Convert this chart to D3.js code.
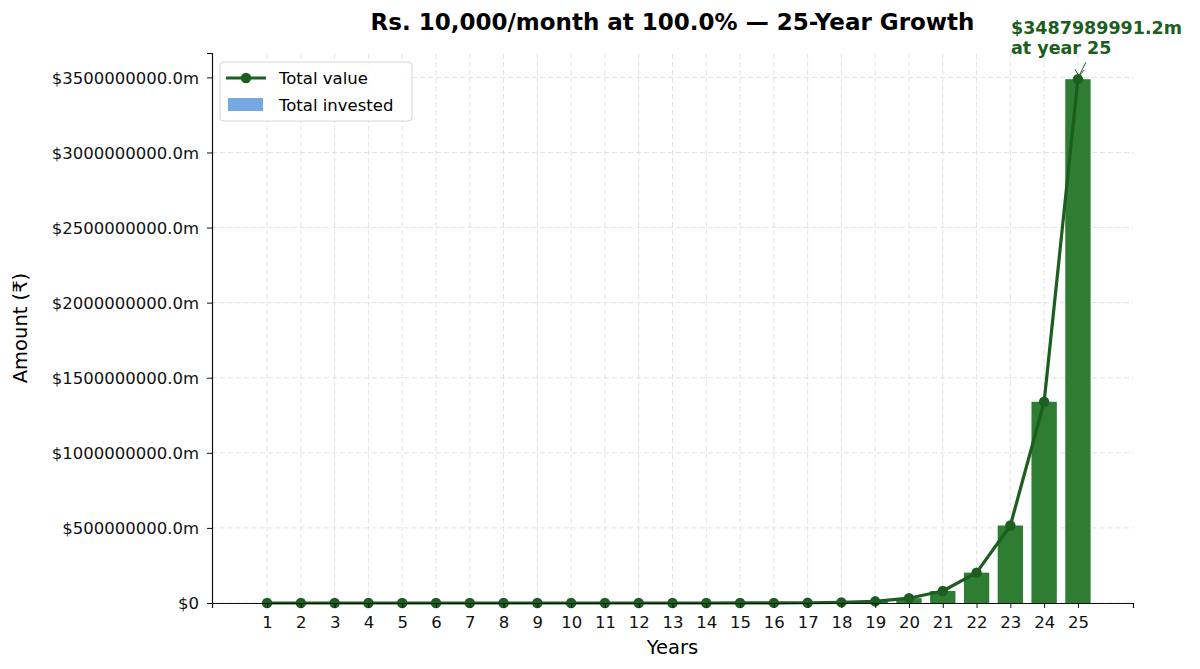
<!DOCTYPE html>
<html>
<head>
<meta charset="utf-8">
<script src="https://cdn.jsdelivr.net/npm/d3@7"></script>
<style>
  body { margin: 0; background: #fff; }
  svg { font-family: "DejaVu Sans", sans-serif; }
</style>
</head>
<body>
<svg width="1200" height="669"></svg>
<script>
// values in "m" units, as the chart labels them
const years = [1, 2, 3, 4, 5, 6, 7, 8, 9, 10, 11, 12, 13, 14, 15, 16, 17, 18, 19, 20, 21, 22, 23, 24, 25];
const totalValue = [0.2, 0.75, 2.2, 6, 16, 42, 110, 290, 760, 1990, 5200, 13600, 35500, 92800, 242500,
  633700, 1656000, 4327000, 11300000, 32000000, 80000000, 202000000, 516000000, 1340000000, 3487989991.2];
const totalInvested = [0.12, 0.24, 0.36, 0.48, 0.6, 0.72, 0.84, 0.96, 1.08, 1.2, 1.32, 1.44, 1.56, 1.68, 1.8,
  1.92, 2.04, 2.16, 2.28, 2.4, 2.52, 2.64, 2.76, 2.88, 3.0];
const yTicks = [0, 500000000, 1000000000, 1500000000, 2000000000, 2500000000, 3000000000, 3500000000];

const svg = d3.select("svg");
const margin = {left: 212, right: 67, top: 53, bottom: 66};
const width = +svg.attr("width");
const height = +svg.attr("height");

const green = "#1b5e20";
const barGreen = "#2e7d32";
const blue = "#74a9e2";

const x = d3.scaleLinear().domain([-0.63, 26.63]).range([margin.left, width - margin.right]);
const y = d3.scaleLinear().domain([0, d3.max(totalValue) * 1.05]).range([height - margin.bottom, margin.top]);
const barW = x(0.75) - x(0);

const fmt = v => v === 0 ? "$0" : "$" + v.toFixed(1) + "m";

// grid
const grid = svg.append("g");
grid.selectAll(".gx").data(years).enter().append("line")
  .attr("x1", d => x(d)).attr("x2", d => x(d))
  .attr("y1", y.range()[0]).attr("y2", y.range()[1])
  .attr("stroke", "#e2e2e2").attr("stroke-dasharray", "5,3").attr("stroke-width", 1);
grid.selectAll(".gy").data(yTicks).enter().append("line")
  .attr("x1", x.range()[0]).attr("x2", x.range()[1])
  .attr("y1", d => y(d)).attr("y2", d => y(d))
  .attr("stroke", "#e2e2e2").attr("stroke-dasharray", "5,3").attr("stroke-width", 1);

// bars: invested + gains stacked
svg.append("g").selectAll("rect").data(years).enter().append("rect")
  .attr("x", d => x(d) - barW / 2).attr("width", barW)
  .attr("y", (d, i) => y(totalInvested[i]))
  .attr("height", (d, i) => y(0) - y(totalInvested[i]))
  .attr("fill", blue);
svg.append("g").selectAll("rect").data(years).enter().append("rect")
  .attr("x", d => x(d) - barW / 2).attr("width", barW)
  .attr("y", (d, i) => y(totalValue[i]))
  .attr("height", (d, i) => y(totalInvested[i]) - y(totalValue[i]))
  .attr("fill", barGreen);

// line
const line = d3.line().x(d => x(d[0])).y(d => y(d[1]));
svg.append("path")
  .datum(years.map((d, i) => [d, totalValue[i]]))
  .attr("d", line).attr("fill", "none")
  .attr("stroke", green).attr("stroke-width", 3.2).attr("stroke-linejoin", "round");
svg.append("g").selectAll("circle").data(years).enter().append("circle")
  .attr("cx", d => x(d)).attr("cy", (d, i) => y(totalValue[i]))
  .attr("r", 5.2).attr("fill", green);

// axes
const xAxis = svg.append("g").attr("transform", `translate(0,${y(0)})`)
  .call(d3.axisBottom(x).tickValues(years).tickFormat(d3.format("d")).tickSize(5).tickPadding(8));
const yAxis = svg.append("g").attr("transform", `translate(${margin.left},0)`)
  .call(d3.axisLeft(y).tickValues(yTicks).tickFormat(fmt).tickSize(5).tickPadding(8));
[xAxis, yAxis].forEach(a => {
  a.selectAll("text").attr("font-size", 16.5).attr("fill", "#111").attr("font-family", "DejaVu Sans");
  a.select(".domain").attr("stroke", "#111").attr("stroke-width", 1.2);
  a.selectAll(".tick line").attr("stroke", "#111");
});
yAxis.selectAll("text").attr("dy", "0.36em");

// labels
svg.append("text").attr("x", (x.range()[0] + x.range()[1]) / 2).attr("y", 30)
  .attr("text-anchor", "middle").attr("font-size", 23).attr("font-weight", "bold")
  .text("Rs. 10,000/month at 100.0% — 25-Year Growth");
svg.append("text").attr("x", (x.range()[0] + x.range()[1]) / 2).attr("y", 654)
  .attr("text-anchor", "middle").attr("font-size", 19.5).text("Years");
svg.append("text").attr("transform", `translate(27,${(y.range()[0] + y.range()[1]) / 2}) rotate(-90)`)
  .attr("text-anchor", "middle").attr("font-size", 19.5).text("Amount (₹)");

// annotation
const lastX = x(years[years.length - 1]);
const lastY = y(totalValue[totalValue.length - 1]);
const ann = svg.append("g");
ann.append("text").attr("x", 1011).attr("y", 34).attr("font-size", 17.5).attr("font-weight", "bold")
  .attr("fill", green).text(fmt(totalValue[totalValue.length - 1]));
ann.append("text").attr("x", 1011).attr("y", 54).attr("font-size", 17.5).attr("font-weight", "bold")
  .attr("fill", green).text("at year " + years[years.length - 1]);
ann.append("line").attr("x1", lastX + 8).attr("y1", lastY - 17).attr("x2", lastX + 1).attr("y2", lastY - 3)
  .attr("stroke", green).attr("stroke-width", 1);
ann.append("path").attr("d", `M${lastX - 3},${lastY - 10} L${lastX + 1},${lastY - 3} L${lastX + 6},${lastY - 9}`)
  .attr("fill", "none").attr("stroke", green).attr("stroke-width", 1);

// legend
const lg = svg.append("g").attr("transform", "translate(220,62)");
lg.append("rect").attr("width", 192).attr("height", 59).attr("rx", 4)
  .attr("fill", "#fff").attr("fill-opacity", 0.85).attr("stroke", "#d6d6d6");
lg.append("line").attr("x1", 6).attr("x2", 46).attr("y1", 16).attr("y2", 16)
  .attr("stroke", green).attr("stroke-width", 3.2);
lg.append("circle").attr("cx", 26).attr("cy", 16).attr("r", 5.2).attr("fill", green);
lg.append("text").attr("x", 59).attr("y", 22).attr("font-size", 16.5).text("Total value");
lg.append("rect").attr("x", 8).attr("y", 36).attr("width", 35).attr("height", 13).attr("fill", blue);
lg.append("text").attr("x", 59).attr("y", 49).attr("font-size", 16.5).text("Total invested");
</script>
</body>
</html>
